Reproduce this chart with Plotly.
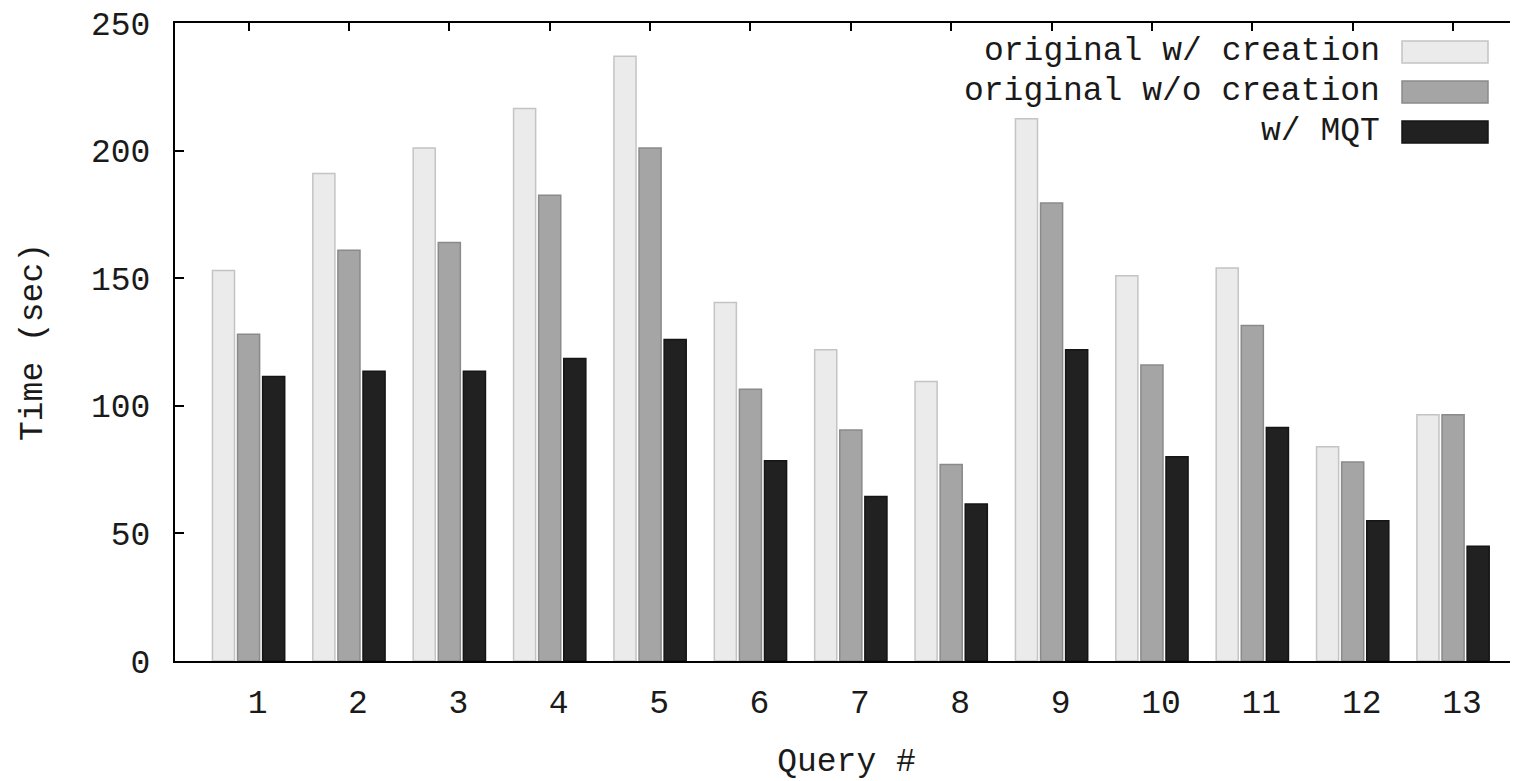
import plotly.graph_objects as go

# ---- data ----
queries = [str(i) for i in range(1, 14)]
series_names = ["original w/ creation", "original w/o creation", "w/ MQT"]
with_creation = [153, 191, 201, 216.5, 237, 140.5, 122, 109.5, 212.5, 151, 154, 84, 96.5]
without_creation = [128, 161, 164, 182.5, 201, 106.5, 90.5, 77, 179.5, 116, 131.5, 78, 96.5]
with_mqt = [111.5, 113.5, 113.5, 118.5, 126, 78.5, 64.5, 61.5, 122, 80, 91.5, 55, 45]
y_ticks = [0, 50, 100, 150, 200, 250]

# ---- style ----
fills = ["#ebebeb", "#a5a5a5", "#212121"]
borders = ["#c4c4c4", "#8a8a8a", "#151515"]
FONT = "Liberation Mono"
FS = 33
TXT = "#1a1a1a"
# the page has an 8px body margin; the figure fills the rest of the window
W, H = 1510, 773
L, T, B, R = 167, 15, 120, 0
OFF = 8  # page offset of the figure

positions = list(range(len(queries)))
series = [with_creation, without_creation, with_mqt]

fig = go.Figure()
for name, vals, fc, bc in zip(series_names, series, fills, borders):
    fig.add_trace(go.Bar(
        x=positions, y=vals, name=name,
        marker=dict(color=fc, line=dict(color=bc, width=1.5)),
        showlegend=False,
    ))
# helper trace so the top mirror axis exists
fig.add_trace(go.Scatter(x=[], y=[], xaxis="x2", showlegend=False))

xr = [-0.733, len(queries) - 1 + 0.647]
fig.update_layout(
    width=W, height=H,
    margin=dict(l=L, r=R, t=T, b=B, pad=0, autoexpand=False),
    paper_bgcolor="white", plot_bgcolor="white",
    barmode="group", bargap=0.25, bargroupgap=0.12,
    font=dict(family=FONT, size=FS, color=TXT),
    xaxis=dict(
        range=xr, tickmode="array", tickvals=positions, ticktext=queries,
        showline=True, linecolor="black", linewidth=2, ticks="",
        showgrid=False, zeroline=False, ticklabelshift=9, ticklabelstandoff=10,
        automargin=False, ticklabeloverflow="allow",
        tickfont=dict(family=FONT, size=FS, color=TXT),
        title=dict(text="Query #", standoff=28, font=dict(family=FONT, size=FS, color=TXT)),
    ),
    xaxis2=dict(
        range=xr, overlaying="x", side="top", anchor="y",
        tickmode="array", tickvals=positions, showticklabels=False,
        showline=True, linecolor="black", linewidth=2,
        ticks="inside", ticklen=8, tickwidth=2, tickcolor="black",
        showgrid=False, zeroline=False, automargin=False,
    ),
    yaxis=dict(
        range=[0, 250], tickmode="array", tickvals=y_ticks,
        showline=True, linecolor="black", linewidth=2, mirror=False,
        ticks="inside", ticklen=9, tickwidth=2, tickcolor="black",
        showgrid=False, zeroline=False, ticklabelstandoff=16,
        automargin=False, ticklabeloverflow="allow",
        tickfont=dict(family=FONT, size=FS, color=TXT),
        title=dict(text="Time (sec)", standoff=38, font=dict(family=FONT, size=FS, color=TXT)),
    ),
)

# ---- legend (text on the left, swatch on the right, like the original) ----
pw, ph = W - L - R, H - T - B
def px_x(p):
    return (p - OFF - L) / pw
def px_y(p):
    return (H - B - (p - OFF)) / ph

for i, (name, fc, bc) in enumerate(zip(series_names, fills, borders)):
    cy = 52 + 40 * i
    fig.add_annotation(
        x=px_x(1382), y=px_y(cy), xref="paper", yref="paper",
        text=name, showarrow=False, xanchor="right", yanchor="middle",
        font=dict(family=FONT, size=FS, color=TXT),
    )
    fig.add_shape(
        type="rect", xref="paper", yref="paper",
        x0=px_x(1402), x1=px_x(1488), y0=px_y(cy + 11), y1=px_y(cy - 11),
        fillcolor=fc, line=dict(color=bc, width=1.5),
    )

fig.write_html("out.html")
